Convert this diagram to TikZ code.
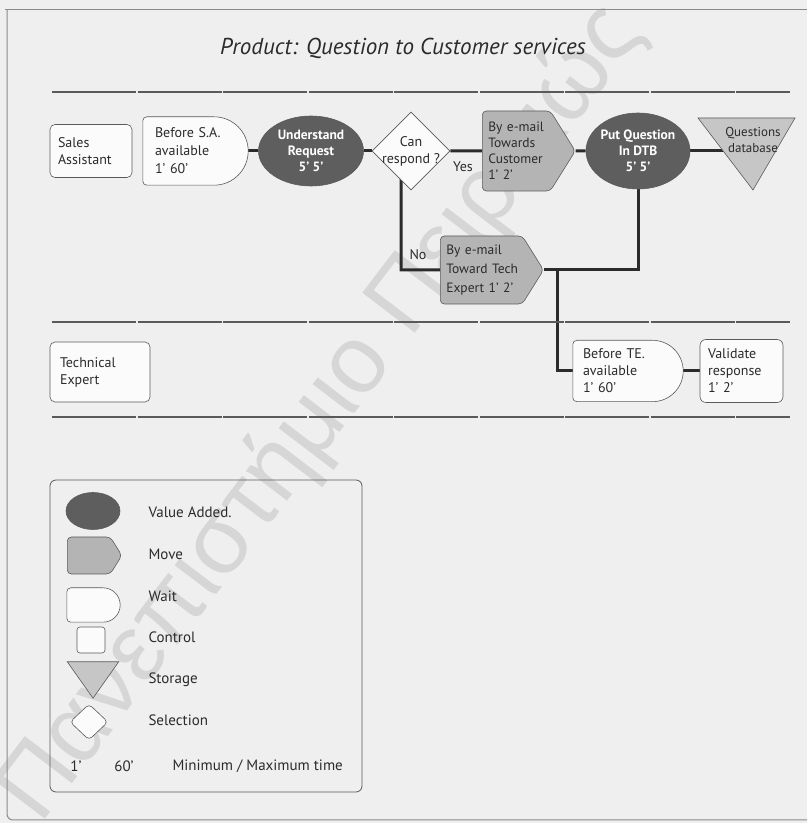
\documentclass[tikz,border=0pt]{standalone}
\usepackage{fontspec}
\setmainfont{PT Sans}
\newfontfamily\wmfont{Liberation Sans}
\usetikzlibrary{shapes.geometric,shapes.symbols,calc,backgrounds}

\pgfdeclarelayer{wmark}
\pgfsetlayers{wmark,background,main}

\definecolor{paper}{HTML}{EFEFEF}
\definecolor{ink}{HTML}{2B2B2B}
\definecolor{edge}{HTML}{5A5A5A}
\definecolor{vadd}{HTML}{5E5E5E}
\definecolor{movefill}{HTML}{B4B4B4}
\definecolor{storefill}{HTML}{C6C6C6}
\definecolor{boxfill}{HTML}{FBFBFB}
\definecolor{markgrey}{HTML}{D6D6D6}

\tikzset{
  lanetext/.style={font=\fontsize{14}{17}\selectfont, text=ink},
  legendtext/.style={font=\fontsize{15}{17}\selectfont, text=ink},
  titletext/.style={font=\itshape\fontsize{23}{27}\selectfont, text=ink},
  conn/.style={draw=ink, line width=3},
  lanesep/.style={draw=edge, line width=1.8, dash pattern=on 84 off 1.5},
  framerule/.style={draw=edge!70, line width=1},
  lanelabel/.style={rectangle, rounded corners=5, draw=edge, fill=boxfill,
    line width=0.6, align=left, inner xsep=8, inner ysep=0, lanetext},
  waitnode/.style={rectangle, inner xsep=12, inner ysep=0, align=left, lanetext},
  waitdraw/.style={draw=edge, fill=boxfill, line width=0.6},
  valueadd/.style={ellipse, draw=edge, line width=0.6, fill=vadd, text=white,
    font=\bfseries\fontsize{13.5}{16}\selectfont, align=center, inner sep=-8pt},
  selection/.style={diamond, draw=edge, fill=boxfill, line width=0.6,
    inner sep=0, align=center, lanetext},
  move/.style={signal, signal to=east, signal pointer angle=116, draw=edge,
    fill=movefill, line width=0.6, rounded corners=4, inner xsep=6,
    inner ysep=0, align=left, lanetext},
  storage/.style={draw=edge, fill=storefill, line width=0.6},
  controlbox/.style={rectangle, rounded corners=3, draw=edge, fill=boxfill, line width=0.6},
  legendbox/.style={rectangle, rounded corners=6, draw=edge, line width=0.8},
  watermark/.style={rotate=52.7, text=markgrey, font=\wmfont\fontsize{96}{96}\selectfont},
}

% wait symbol: small rounded corners on the left, half circle on the right
\newcommand\waitshape[1]{%
  \path[waitdraw] let \p1=(#1.north east), \p2=(#1.south west),
    \n1={(\y1-\y2)/2} in
    (\x1-\n1,\y1) -- (\x2+4,\y1) arc[start angle=90,end angle=180,radius=4]
    -- (\x2,\y2+4) arc[start angle=180,end angle=270,radius=4]
    -- (\x1-\n1,\y2) arc[start angle=-90,end angle=90,radius=\n1] -- cycle;}

\begin{document}
\begin{tikzpicture}[x=1pt,y=1pt]
\useasboundingbox (0,0) rectangle (807,823);

\begin{pgfonlayer}{wmark}
  \fill[paper] (0,0) rectangle (807,823);
  \node[watermark] (wm) at (322,410) {Πανεπιστήμιο Πειραιώς};
  \draw[framerule] (5,813) -- (807,813);
  \draw[framerule] (7,813) -- (7,9) arc[start angle=180,end angle=270,radius=6] -- (807,3);
\end{pgfonlayer}

% title and lane separators
\node[titletext] (title) at (403,775) {Product: Question to Customer services};
\draw[lanesep] (52,731) -- (790,731);
\draw[lanesep] (52,501) -- (790,501);
\draw[lanesep] (52,406) -- (790,406);

% lane: Sales Assistant
\node[lanelabel, text width=66, minimum height=53] (sa) at (91,672) {Sales\\Assistant};
\node[waitnode, text width=81, minimum height=68, font=\fontsize{14}{18}\selectfont] (wsa) at (195.5,672) {Before S.A.\\available\\1'\,\,60'};
\node[valueadd, minimum width=105, minimum height=70] (ue) at (311,672) {Understand\\Request\\5' 5'};
\node[selection, minimum width=78, minimum height=78] (dia) at (411,672)
  {\makebox[0pt]{Can}\\\makebox[0pt]{respond ?}};
\node[lanetext] (yes) at (463,656) {Yes};
\node[move, text width=56, minimum height=80, anchor=west, font=\fontsize{13.5}{16}\selectfont] (m1) at (482,672)
  {\mbox{By e-mail}\\\mbox{Towards}\\\mbox{Customer}\\\mbox{1'\,\,2'}};
\node[valueadd, minimum width=104, minimum height=76] (pq) at (638,672) {Put Question\\In DTB\\5' 5'};
\node[lanetext, font=\fontsize{13}{16}\selectfont, align=center] (qdb) at (753,683) {Questions\\database};
\node[lanetext] (no) at (418,568) {No};
\node[move, text width=70, minimum height=68, anchor=west, font=\fontsize{13.5}{19}\selectfont] (m2) at (440,553)
  {\mbox{By e-mail}\\\mbox{Toward Tech}\\\mbox{Expert 1'\,\,2'}};

% lane: Technical Expert
\node[lanelabel, text width=80, minimum height=60, inner xsep=10] (te) at (100,451) {Technical\\Expert};
\node[waitnode, text width=90, minimum height=61, inner xsep=10] (wte) at (628,452) {Before TE.\\available\\1'\,\,60'};
\node[lanelabel, text width=67, minimum height=63, rounded corners=6] (val) at (741.5,452) {Validate\\response\\1'\,\,2'};

\coordinate (nobend) at (401,553);
\coordinate (tebend) at (557,553);

% legend
\node[legendbox, minimum width=312, minimum height=312] (legend) at (206,187) {};
\node[valueadd, minimum width=54, minimum height=37] (kva) at (93,312) {};
\node[move, text width=31, minimum height=37, anchor=west] (kmv) at (67,267.5) {};
\node[waitnode, minimum width=53, minimum height=34, inner xsep=0] (kwt) at (93.5,218) {};
\node[controlbox, minimum width=28, minimum height=26] (kct) at (91,183) {};
\node[rectangle, minimum width=51, minimum height=36, inner sep=0] (kst) at (93,143) {};
\node[selection, minimum width=38, minimum height=36, rounded corners=4] (ksl) at (89,101) {};
\node[legendtext, anchor=west] (lva) at (145,311) {Value Added.};
\node[legendtext, anchor=west] (lmv) at (145,269) {Move};
\node[legendtext, anchor=west] (lwt) at (145,227) {Wait};
\node[legendtext, anchor=west] (lct) at (145,186) {Control};
\node[legendtext, anchor=west] (lst) at (145,143) {Storage};
\node[legendtext, anchor=west] (lsl) at (145,103) {Selection};
\node[legendtext] (kmin) at (76,57) {1'};
\node[legendtext] (kmax) at (124,57) {60'};
\node[legendtext, anchor=west] (ktime) at (169,57) {Minimum / Maximum time};

\begin{pgfonlayer}{background}
  % flow connectors
  \draw[conn] (wsa) -- (ue);
  \draw[conn] (ue) -- (dia);
  \draw[conn] (dia) -- (m1);
  \draw[conn] (m1) -- (pq);
  \draw[conn] (pq) -- (pq -| qdb);
  \draw[conn] (dia -| nobend) -- (nobend) -- (m2);
  \draw[conn] (pq) |- (m2);
  \draw[conn] (tebend) |- (wte);
  \draw[conn] (wte) -- (val);
  % wait and storage symbols
  \waitshape{wsa}
  \waitshape{wte}
  \waitshape{kwt}
  \filldraw[storage] ($(qdb)+(-55,22)$) -- ($(qdb)+(42,22)$) -- ($(qdb)+(0,-50)$) -- cycle;
  \filldraw[storage] (kst.north west) -- (kst.north east) -- (kst.south) -- cycle;
\end{pgfonlayer}
\end{tikzpicture}
\end{document}
